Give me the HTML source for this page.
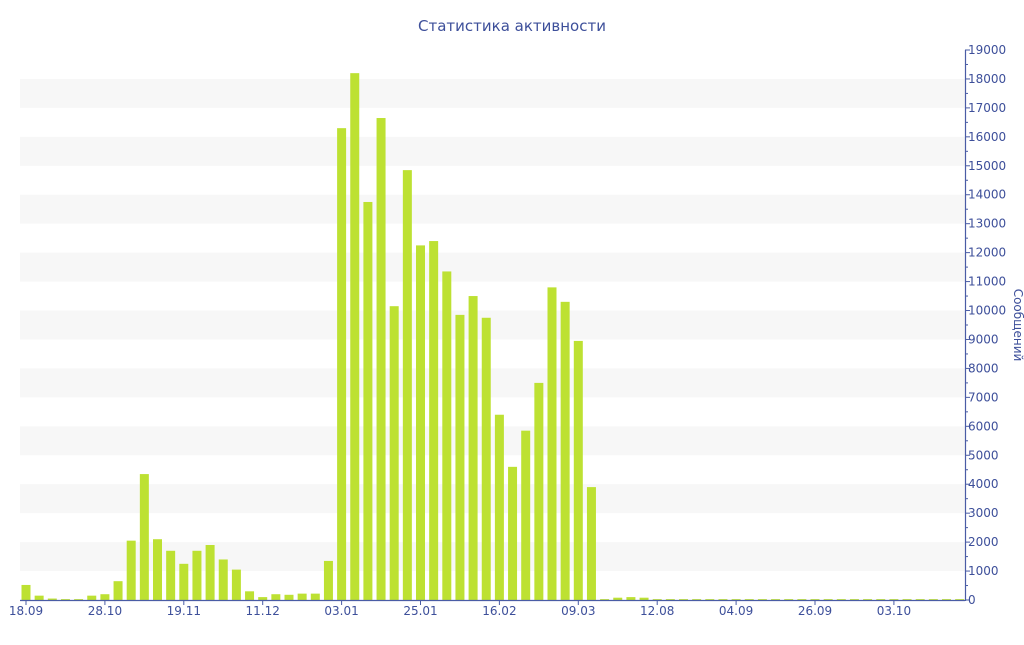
<!DOCTYPE html>
<html><head><meta charset="utf-8"><style>
body{margin:0;background:#fff;}
svg text{font-family:"DejaVu Sans","Liberation Sans",sans-serif;fill:#3d4f9a;}
</style></head><body>
<svg id="s" width="1024" height="640" xmlns="http://www.w3.org/2000/svg">
<text x="512" y="31" font-size="15" text-anchor="middle">Статистика активности</text>
<g id="bands"></g><g id="bars"></g><g id="axis"></g>
<text transform="translate(1014,325) rotate(90)" font-size="12" text-anchor="middle">Сообщений</text>
</svg>
<script>
const NS="http://www.w3.org/2000/svg";
function el(p,t,a,txt){const e=document.createElementNS(NS,t);for(const k in a)e.setAttribute(k,a[k]);if(txt)e.textContent=txt;document.getElementById(p).appendChild(e);}
const y0=600,k=550/19000;
for(let v=1000;v<19000;v+=2000){el("bands","rect",{x:20,y:y0-(v+1000)*k,width:945,height:1000*k,fill:"#f7f7f7"});}
const vals=[520,150,50,30,30,150,200,650,2050,4350,2100,1700,1250,1700,1900,1400,1050,300,100,200,180,220,220,1350,16300,18200,13750,16650,10150,14850,12250,12400,11350,9850,10500,9750,6400,4600,5850,7500,10800,10300,8950,3900,30,80,100,80];
while(vals.length<72)vals.push(30);
vals.forEach((v,i)=>{const cx=26+i*13.15;const h=v*k;el("bars","rect",{x:cx-4.5,y:y0-h,width:9,height:h,fill:"#bde132"});});
el("axis","line",{x1:20,y1:600.5,x2:965,y2:600.5,stroke:"#4a5ca5","stroke-width":1.2});
el("axis","line",{x1:965.5,y1:50,x2:965.5,y2:601,stroke:"#4a5ca5","stroke-width":1.2});
for(let v=0;v<=19000;v+=1000){const y=y0-v*k;el("axis","line",{x1:965,y1:y,x2:970,y2:y,stroke:"#4a5ca5"});el("axis","text",{x:968,y:y+4,"font-size":"12"},String(v));
if(v<19000){el("axis","line",{x1:965,y1:y-500*k,x2:968,y2:y-500*k,stroke:"#4a5ca5"});}}
const labs=["18.09","28.10","19.11","11.12","03.01","25.01","16.02","09.03","12.08","04.09","26.09","03.10"];
labs.forEach((l,i)=>{const x=26+i*6*13.15;el("axis","line",{x1:x,y1:600,x2:x,y2:605,stroke:"#4a5ca5"});el("axis","text",{x:x,y:615,"font-size":"12","text-anchor":"middle"},l);});
</script>
</body></html>
